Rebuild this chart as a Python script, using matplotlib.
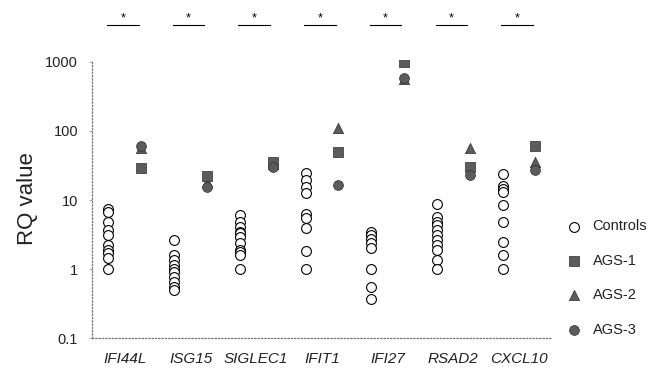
import numpy as np
import matplotlib
matplotlib.use("Agg")
import matplotlib.pyplot as plt
from matplotlib.ticker import FixedLocator, NullLocator

plt.rcParams["font.family"] = ["Liberation Sans", "DejaVu Sans"]

# gene names on the x axis
genes = ["IFI44L", "ISG15", "SIGLEC1", "IFIT1", "IFI27", "RSAD2", "CXCL10"]

# control values (one list per gene)
controls = [
    [7.4, 6.7, 4.8, 3.7, 3.1, 2.2, 1.9, 1.7, 1.45, 1.0],
    [2.6, 1.6, 1.35, 1.15, 1.0, 0.9, 0.77, 0.65, 0.55, 0.5],
    [6.0, 4.8, 4.1, 3.4, 3.3, 2.9, 2.4, 1.9, 1.75, 1.6, 1.0],
    [24.5, 19.5, 15.5, 12.6, 6.3, 5.5, 4.0, 1.85, 1.0],
    [3.4, 3.1, 2.7, 2.4, 2.0, 1.0, 0.55, 0.37],
    [8.8, 5.7, 4.8, 4.3, 3.7, 3.1, 2.6, 2.2, 1.9, 1.35, 1.0],
    [24.0, 16.0, 14.5, 13.0, 8.5, 4.8, 2.5, 1.6, 1.0],
]

# patient values
ags1 = [29, 22, 35, 50, 1000, 30, 61]
ags2 = [56, 18, 33, 110, 560, 56, 36]
ags3 = [60, 15.5, 30, 16.5, 580, 23, 27]

ytick_vals = [0.1, 1, 10, 100, 1000]
ytick_labels = ["0.1", "1", "10", "100", "1000"]

fig = plt.figure(figsize=(6.57, 3.72), dpi=100)
ax = fig.add_axes([0.140, 0.091, 0.700, 0.748])

grey = "#5c5c5c"
edge = "#2e2e2e"
x = np.arange(len(genes))

for i, vals in enumerate(controls):
    ax.scatter([x[i] - 0.25] * len(vals), vals, s=50, facecolor="white",
               edgecolor="black", linewidth=0.8, zorder=3)

ax.scatter(x + 0.25, ags2, marker="^", s=55, color=grey, edgecolor=edge, linewidth=0.5, zorder=3)
ax.scatter(x + 0.25, ags1, marker="s", s=44, color=grey, edgecolor=edge, linewidth=0.5, zorder=4)
ax.scatter(x + 0.25, ags3, marker="o", s=50, color=grey, edgecolor=edge, linewidth=0.5, zorder=5)

ax.set_yscale("log")
ax.set_ylim(0.1, 1070)
ax.set_xlim(-0.5, 6.5)
ax.yaxis.set_major_locator(FixedLocator(ytick_vals))
ax.set_yticklabels(ytick_labels)
ax.yaxis.set_minor_locator(NullLocator())
ax.set_xticks(x)
ax.set_xticklabels(genes, style="italic", fontsize=11)
ax.tick_params(axis="x", length=0, pad=10, colors="#222")
ax.tick_params(axis="y", length=2, width=0.6, labelsize=10.5, pad=8, color="#999",
               labelcolor="#222")

for s in ["top", "right"]:
    ax.spines[s].set_visible(False)
for s in ["left", "bottom"]:
    ax.spines[s].set_linestyle(":")
    ax.spines[s].set_color("#777")
    ax.spines[s].set_linewidth(0.9)

ax.set_ylabel("RQ value", fontsize=16, labelpad=5, color="#222")

# significance bars
for i in x:
    ax.plot([i - 0.27, i + 0.21], [1.126, 1.126], color="black", lw=0.8,
            transform=ax.get_xaxis_transform(), clip_on=False)
    ax.text(i - 0.03, 1.15, "*", ha="center", va="center", fontsize=9,
            transform=ax.get_xaxis_transform())

# legend
h_ctrl = ax.scatter([], [], s=50, facecolor="white", edgecolor="black", linewidth=0.8)
h1 = ax.scatter([], [], marker="s", s=44, color=grey, edgecolor=edge, linewidth=0.5)
h2 = ax.scatter([], [], marker="^", s=55, color=grey, edgecolor=edge, linewidth=0.5)
h3 = ax.scatter([], [], marker="o", s=50, color=grey, edgecolor=edge, linewidth=0.5)
fig.legend([h_ctrl, h1, h2, h3], ["Controls", "AGS-1", "AGS-2", "AGS-3"],
           loc="upper left", bbox_to_anchor=(0.84, 0.43), frameon=False,
           fontsize=10.5, labelspacing=1.4, handletextpad=0.3, borderpad=0,
           labelcolor="#222")

fig.savefig("out.png", dpi=100)
